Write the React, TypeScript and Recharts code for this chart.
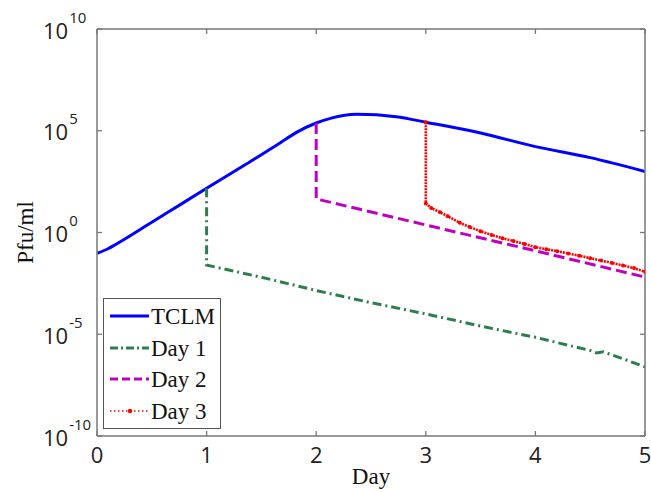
import React from "react";
import { LineChart, Line, XAxis, YAxis, Legend } from "recharts";

// axis ticks
const dayTicks = [0, 1, 2, 3, 4, 5];
const pfuTicks = [1e-10, 1e-5, 1, 1e5, 1e10];

// TCLM curve, values are log10(Pfu/ml)
const tclmDay = [0, 0.1, 0.17, 0.5, 0.76, 1, 1.37, 1.67, 1.82, 2, 2.13, 2.37, 2.73, 3, 3.5, 4, 4.5, 5];
const tclmLog = [-1.03, -0.8, -0.59, 0.5, 1.37, 2.17, 3.39, 4.4, 4.92, 5.38, 5.61, 5.81, 5.69, 5.42, 4.89, 4.22, 3.68, 3.0];

// treatment on day 1
const day1Day = [1, 1, 1.5, 2, 2.5, 3, 3.5, 4, 4.5, 4.56, 4.62, 5];
const day1Log = [2.17, -1.6, -2.2, -2.85, -3.45, -4.0, -4.6, -5.15, -5.8, -5.92, -5.86, -6.6];

// treatment on day 2
const day2Day = [2, 2, 3, 4, 5];
const day2Log = [5.38, 1.65, 0.37, -0.9, -2.19];

// treatment on day 3
const day3Day = [3, 3, 3.05, 3.13, 3.2, 3.31, 3.4, 3.5, 3.6, 3.7, 3.8, 3.9, 4, 4.1, 4.2, 4.3, 4.4, 4.5, 4.6, 4.7, 4.8, 4.9, 5];
const day3Log = [5.42, 1.43, 1.2, 1.0, 0.8, 0.48, 0.27, 0.06, -0.12, -0.28, -0.42, -0.56, -0.72, -0.82, -0.92, -1.03, -1.14, -1.26, -1.38, -1.5, -1.62, -1.75, -1.93];

const toRows = (days: number[], logs: number[]) =>
  days.map((d, i) => ({ day: d, pfu: Math.pow(10, logs[i]) }));

const tclm = toRows(tclmDay, tclmLog);
const day1 = toRows(day1Day, day1Log);
const day2 = toRows(day2Day, day2Log);
const day3 = toRows(day3Day, day3Log);

const axisColor = "#777";
const tickFont = "'Open Sans', sans-serif";
const labelFont = "'Liberation Serif', serif";

const BottomTick = ({ x, y, payload }: any) => (
  <g>
    <line x1={x} y1={y} x2={x} y2={y - 5} stroke={axisColor} strokeWidth={1.3} />
    <text x={x} y={y + 27} textAnchor="middle" fontFamily={tickFont} fontSize={22} fill="#222">
      {payload.value}
    </text>
  </g>
);

const LeftTick = ({ x, y, payload }: any) => {
  const exp = Math.round(Math.log10(payload.value));
  return (
    <g>
      <line x1={x} y1={y} x2={x + 5} y2={y} stroke={axisColor} strokeWidth={1.3} />
      <text x={x - 54} y={y + 9.5} fontFamily={tickFont} fontSize={22} fill="#222">
        <tspan>10</tspan>
        <tspan dx={1} dy={-16} fontSize={15}>{exp}</tspan>
      </text>
    </g>
  );
};

const TopTick = ({ x, y }: any) => (
  <line x1={x} y1={y} x2={x} y2={y + 5} stroke={axisColor} strokeWidth={1.3} />
);

const RightTick = ({ x, y }: any) => (
  <line x1={x} y1={y} x2={x - 5} y2={y} stroke={axisColor} strokeWidth={1.3} />
);

const legendItems = [
  { name: "TCLM", color: "#0000ff", dash: "", dot: false },
  { name: "Day 1", color: "#2e7d4f", dash: "8 3 2 3", dot: false },
  { name: "Day 2", color: "#c000c0", dash: "8 4", dot: false },
  { name: "Day 3", color: "#ff0000", dash: "1.5 2.5", dot: true },
];

const LegendBox = () => (
  <div
    style={{
      border: "1.3px solid #555",
      background: "#fff",
      width: 118,
      height: 131,
      paddingTop: 2,
      boxSizing: "border-box",
    }}
  >
    {legendItems.map((it) => (
      <div key={it.name} style={{ display: "flex", alignItems: "flex-start", height: 31.7 }}>
        <svg width={47} height={32} style={{ display: "block" }}>
          <line
            x1={6}
            y1={15}
            x2={45}
            y2={15}
            stroke={it.color}
            strokeWidth={it.dot ? 1.5 : 3}
            strokeDasharray={it.dash || undefined}
          />
          {it.dot && <circle cx={26} cy={15} r={2.2} fill={it.color} />}
        </svg>
        <span
          style={{
            fontFamily: labelFont,
            fontSize: 23,
            lineHeight: "32px",
            color: "#111",
            whiteSpace: "nowrap",
          }}
        >
          {it.name}
        </span>
      </div>
    ))}
  </div>
);

export default function App() {
  return (
    <div style={{ position: "fixed", left: 0, top: 0, width: 651, height: 492, background: "#fff" }}>
      <LineChart width={651} height={492} margin={{ top: 24, right: 0, bottom: 0, left: 0 }}>
        <XAxis
          dataKey="day"
          type="number"
          domain={[0, 5]}
          ticks={dayTicks}
          interval={0}
          height={56}
          tickSize={0}
          tickMargin={0}
          tickLine={false}
          axisLine={{ stroke: axisColor, strokeWidth: 1.5 }}
          tick={<BottomTick />}
          allowDataOverflow
          label={({ viewBox }: any) => (
            <text
              x={viewBox.x + viewBox.width / 2}
              y={484}
              textAnchor="middle"
              fontFamily={labelFont}
              fontSize={23}
              fill="#111"
            >
              Day
            </text>
          )}
        />
        <XAxis
          xAxisId="top"
          orientation="top"
          dataKey="day"
          type="number"
          domain={[0, 5]}
          ticks={dayTicks}
          interval={0}
          height={5}
          tickSize={0}
          tickMargin={0}
          tickLine={false}
          axisLine={{ stroke: axisColor, strokeWidth: 1.5 }}
          tick={<TopTick />}
          allowDataOverflow
        />
        <YAxis
          dataKey="pfu"
          scale="log"
          type="number"
          domain={[1e-10, 1e10]}
          ticks={pfuTicks}
          interval={0}
          width={97}
          tickSize={0}
          tickMargin={0}
          tickLine={false}
          axisLine={{ stroke: axisColor, strokeWidth: 1.5 }}
          tick={<LeftTick />}
          allowDataOverflow
          label={({ viewBox }: any) => (
            <text
              x={33}
              y={viewBox.y + viewBox.height / 2}
              transform={`rotate(-90 33 ${viewBox.y + viewBox.height / 2})`}
              textAnchor="middle"
              fontFamily={labelFont}
              fontSize={23}
              fill="#111"
            >
              Pfu/ml
            </text>
          )}
        />
        <YAxis
          yAxisId="right"
          orientation="right"
          dataKey="pfu"
          scale="log"
          type="number"
          domain={[1e-10, 1e10]}
          ticks={pfuTicks}
          interval={0}
          width={6}
          tickSize={0}
          tickMargin={0}
          tickLine={false}
          axisLine={{ stroke: axisColor, strokeWidth: 1.5 }}
          tick={<RightTick />}
          allowDataOverflow
        />
        <Line
          data={tclm}
          dataKey="pfu"
          name="TCLM"
          type="monotone"
          stroke="#0000ff"
          strokeWidth={3}
          dot={false}
          isAnimationActive={false}
        />
        <Line
          data={day1}
          dataKey="pfu"
          name="Day 1"
          stroke="#2e7d4f"
          strokeWidth={3}
          strokeDasharray="9 4 2 4"
          dot={false}
          isAnimationActive={false}
        />
        <Line
          data={day2}
          dataKey="pfu"
          name="Day 2"
          stroke="#c000c0"
          strokeWidth={3}
          strokeDasharray="11 5"
          dot={false}
          isAnimationActive={false}
        />
        <Line
          data={day3}
          dataKey="pfu"
          name="Day 3"
          stroke="#ff0000"
          strokeWidth={2.6}
          strokeDasharray="2 1"
          dot={{ r: 2, fill: "#ff0000", stroke: "none" }}
          isAnimationActive={false}
        />
        <Legend
          layout="vertical"
          align="center"
          verticalAlign="middle"
          content={() => <LegendBox />}
          wrapperStyle={{ left: 103, top: 298, width: 118, height: 131 }}
        />
      </LineChart>
    </div>
  );
}
